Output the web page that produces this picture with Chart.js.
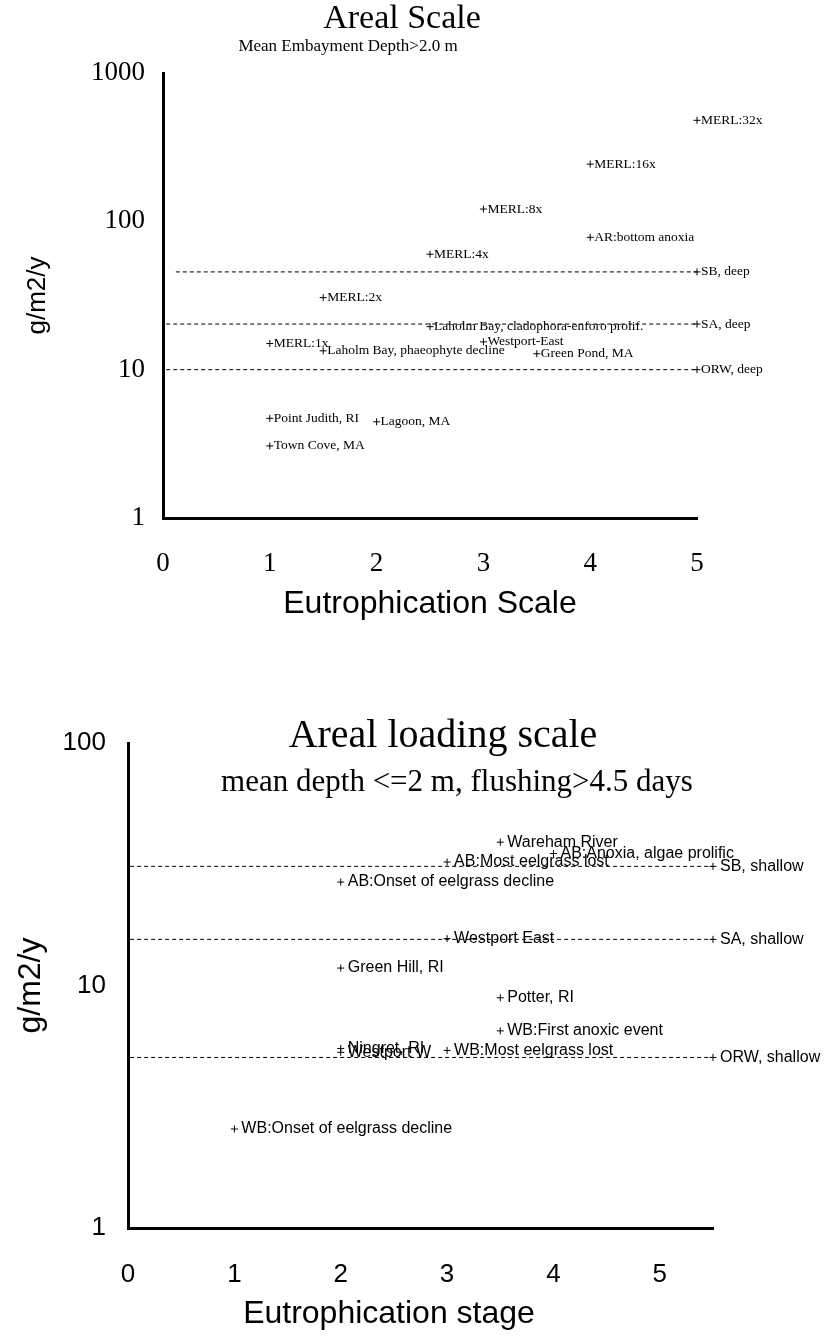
<!DOCTYPE html>
<html>
<head>
<meta charset="utf-8">
<script src="https://cdn.jsdelivr.net/npm/chart.js@4.4.1/dist/chart.umd.min.js"></script>
<style>
    html, body { margin: 0; padding: 0; background: #fff; }
    canvas { display: block; }
</style>
</head>
<body>
<canvas id="grafico1" width="827" height="650"></canvas>
<canvas id="grafico2" width="827" height="686"></canvas>
<script>
// grafico de cima: profundidade media > 2 m
const nomesFundo = ['MERL:32x', 'MERL:16x', 'MERL:8x', 'AR:bottom anoxia', 'MERL:4x', 'MERL:2x',
    'Laholm Bay, cladophora-enforo prolif.', 'Westport-East', 'MERL:1x', 'Laholm Bay, phaeophyte decline',
    'Green Pond, MA', 'Point Judith, RI', 'Lagoon, MA', 'Town Cove, MA'];
const estagioFundo = [5, 4, 3, 4, 2.5, 1.5, 2.5, 3, 1, 1.5, 3.5, 1, 2, 1];
const cargaFundo = [480, 243, 121, 78, 60, 30.6, 19.5, 15.4, 15, 13.4, 12.8, 4.7, 4.45, 3.06];
const refNomesFundo = ['SB, deep', 'SA, deep', 'ORW, deep'];
const refCargaFundo = [45.6, 20.3, 10];
const refInicioFundo = [0.12, 0.03, 0.03];
const ticksX1 = [0, 1, 2, 3, 4, 5];
const ticksY1 = [1, 10, 100, 1000];

// grafico de baixo: profundidade media <= 2 m
const nomesRaso = ['Wareham River', 'AB:Anoxia, algae prolific', 'AB:Most eelgrass lost',
    'AB:Onset of eelgrass decline', 'Westport East', 'Green Hill, RI', 'Potter, RI',
    'WB:First anoxic event', 'Ningret, RI', 'Westport W', 'WB:Most eelgrass lost',
    'WB:Onset of eelgrass decline'];
const estagioRaso = [3.5, 4, 3, 2, 3, 2, 3.5, 3.5, 2, 2, 3, 1];
const cargaRaso = [39, 35, 32.3, 26.7, 15.6, 11.8, 8.9, 6.5, 5.5, 5.3, 5.4, 2.56];
const refNomesRaso = ['SB, shallow', 'SA, shallow', 'ORW, shallow'];
const refCargaRaso = [31, 15.5, 5.05];
const refInicioRaso = [0.02, 0.02, 0.02];
const ticksX2 = [0, 1, 2, 3, 4, 5];
const ticksY2 = [1, 10, 100];

const rotulos = {
    id: 'rotulos',
    afterDatasetsDraw(chart, args, opts) {
        const { ctx } = chart;
        ctx.save();
        ctx.font = opts.fonte;
        ctx.fillStyle = '#000';
        ctx.textBaseline = 'middle';
        chart.data.datasets.forEach((ds, i) => {
            chart.getDatasetMeta(i).data.forEach((p, j) => {
                const nome = ds.nomes[j];
                if (nome) ctx.fillText(nome, p.x + opts.dx, p.y);
            });
        });
        ctx.restore();
    }
};

const titulos = {
    id: 'titulos',
    afterDraw(chart, args, opts) {
        const { ctx } = chart;
        ctx.save();
        ctx.fillStyle = '#000';
        ctx.textAlign = 'center';
        ctx.textBaseline = 'middle';
        opts.linhas.forEach(l => {
            ctx.font = l.fonte;
            ctx.fillText(l.texto, l.x, l.y);
        });
        ctx.restore();
    }
};

const montarGrafico = (id, c) => {
    const datasets = [{
        data: c.nomes.map((n, i) => ({ x: c.estagio[i], y: c.carga[i] })),
        nomes: c.nomes,
        clip: false,
        pointStyle: 'cross',
        pointRadius: 3.5,
        borderColor: '#000',
        borderWidth: 1
    }];
    c.refNomes.forEach((n, i) => {
        datasets.push({
            data: [{ x: c.refInicio[i], y: c.refCarga[i] }, { x: c.refFim, y: c.refCarga[i] }],
            nomes: [null, n],
            clip: false,
            showLine: true,
            borderColor: '#000',
            borderWidth: 1,
            borderDash: [4, 3],
            pointStyle: 'cross',
            pointRadius: [0, 3.5]
        });
    });

    return new Chart(document.getElementById(id), {
        type: 'scatter',
        data: { datasets },
        plugins: [rotulos, titulos],
        options: {
            responsive: false,
            animation: false,
            events: [],
            layout: { padding: c.padding },
            plugins: {
                legend: { display: false },
                tooltip: { enabled: false },
                rotulos: { fonte: c.fonteRotulo, dx: c.dx },
                titulos: { linhas: c.titulos }
            },
            scales: {
                x: {
                    type: 'linear',
                    min: 0,
                    max: c.refFim,
                    afterBuildTicks: s => { s.ticks = c.ticksX.map(v => ({ value: v })); },
                    afterFit: s => { s.height = c.alturaX; },
                    grid: { display: false, drawTicks: false },
                    border: { display: true, color: '#000', width: 3 },
                    ticks: { color: '#000', font: c.fonteTick, padding: c.padTickX, autoSkip: false, maxRotation: 0 },
                    title: { display: !!c.tituloX, text: c.tituloX, color: '#000', font: c.fonteEixoX, padding: { top: 0, bottom: c.padTituloX } }
                },
                y: {
                    type: 'logarithmic',
                    min: 1,
                    max: c.ticksY[c.ticksY.length - 1],
                    afterBuildTicks: s => { s.ticks = c.ticksY.map(v => ({ value: v })); },
                    afterFit: s => { s.width = c.larguraY; },
                    grid: { display: false, drawTicks: false },
                    border: { display: true, color: '#000', width: 3 },
                    ticks: { color: '#000', font: c.fonteTick, padding: c.padTickY, autoSkip: false, callback: v => String(v) },
                    title: { display: true, text: 'g/m2/y', color: '#000', font: c.fonteEixoY, padding: { top: c.padTituloY, bottom: 0 } }
                }
            }
        }
    });
};

montarGrafico('grafico1', {
    nomes: nomesFundo, estagio: estagioFundo, carga: cargaFundo,
    refNomes: refNomesFundo, refCarga: refCargaFundo, refInicio: refInicioFundo, refFim: 5,
    ticksX: ticksX1, ticksY: ticksY1,
    padding: { left: 0, top: 73, right: 130, bottom: 0 },
    alturaX: 132, larguraY: 163,
    fonteTick: { family: 'Liberation Serif', size: 27 },
    fonteEixoX: { family: 'Liberation Sans', size: 32 },
    fonteEixoY: { family: 'Liberation Sans', size: 26 },
    padTickX: 30, padTickY: 18, padTituloX: 27, padTituloY: 22,
    tituloX: 'Eutrophication Scale',
    fonteRotulo: '13.5px "Liberation Serif"', dx: 4,
    titulos: [
        { texto: 'Areal Scale', x: 402, y: 19, fonte: '34px "Liberation Serif"' },
        { texto: 'Mean Embayment Depth>2.0 m', x: 348, y: 47, fonte: '17px "Liberation Serif"' }
    ]
});

montarGrafico('grafico2', {
    nomes: nomesRaso, estagio: estagioRaso, carga: cargaRaso,
    refNomes: refNomesRaso, refCarga: refCargaRaso, refInicio: refInicioRaso, refFim: 5.5,
    ticksX: ticksX2, ticksY: ticksY2,
    padding: { left: 0, top: 93, right: 114, bottom: 0 },
    alturaX: 108, larguraY: 128,
    fonteTick: { family: 'Liberation Sans', size: 26 },
    fonteEixoX: { family: 'Liberation Sans', size: 32 },
    fonteEixoY: { family: 'Liberation Sans', size: 32 },
    padTickX: 31, padTickY: 22, padTituloX: 0, padTituloY: 12,
    tituloX: '',
    fonteRotulo: '16px "Liberation Sans"', dx: 7,
    titulos: [
        { texto: 'Areal loading scale', x: 443, y: 86, fonte: '40px "Liberation Serif"' },
        { texto: 'mean depth <=2 m, flushing>4.5 days', x: 457, y: 133, fonte: '31px "Liberation Serif"' },
        { texto: 'Eutrophication stage', x: 389, y: 664, fonte: '32px "Liberation Sans"' }
    ]
});
</script>
</body>
</html>
